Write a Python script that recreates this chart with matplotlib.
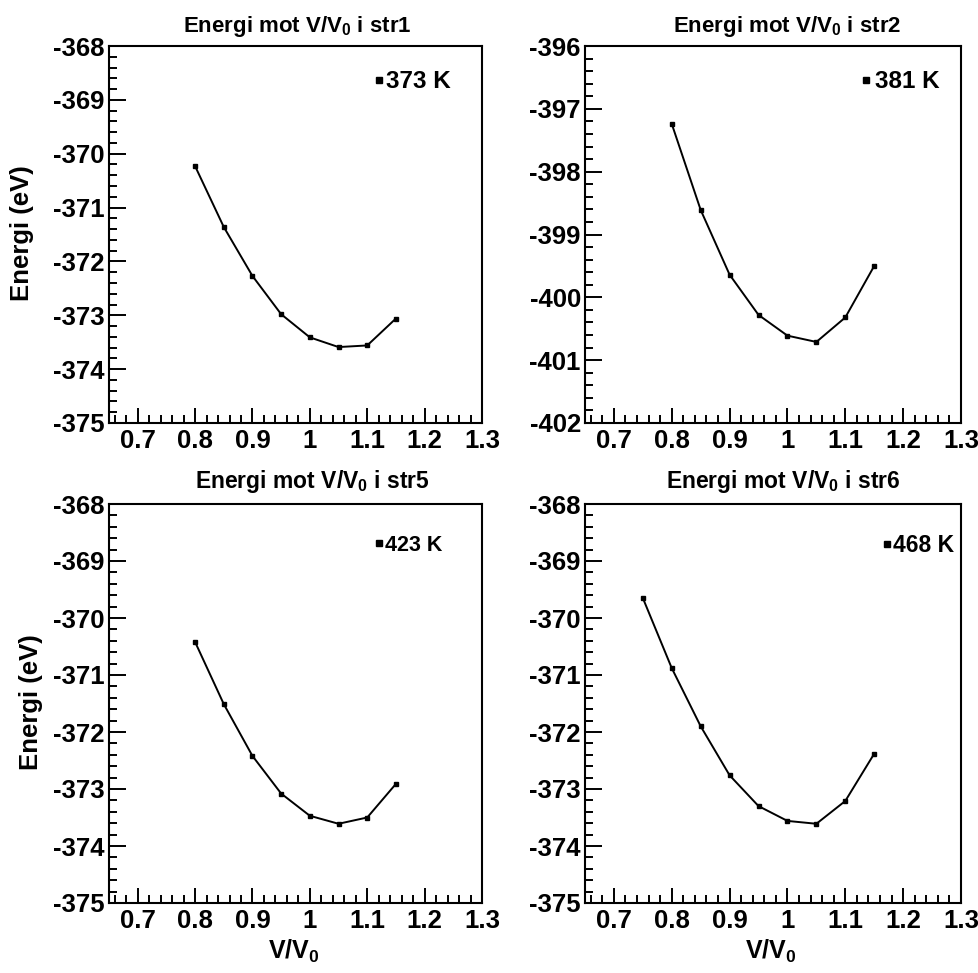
import matplotlib
matplotlib.use("Agg")
import matplotlib.pyplot as plt
from matplotlib.ticker import MultipleLocator

plt.rcParams['font.family'] = ['Liberation Sans', 'DejaVu Sans']
plt.rcParams['font.weight'] = 'bold'
plt.rcParams['mathtext.fontset'] = 'custom'
plt.rcParams['mathtext.rm'] = 'Liberation Sans:bold'
plt.rcParams['mathtext.it'] = 'Liberation Sans:bold'
plt.rcParams['mathtext.bf'] = 'Liberation Sans:bold'

# data
v_str1 = [0.80, 0.85, 0.90, 0.95, 1.00, 1.05, 1.10, 1.15]
e_str1 = [-370.23, -371.36, -372.27, -372.98, -373.41, -373.59, -373.56, -373.06]

v_str2 = [0.80, 0.85, 0.90, 0.95, 1.00, 1.05, 1.10, 1.15]
e_str2 = [-397.24, -398.61, -399.64, -400.28, -400.61, -400.71, -400.32, -399.50]

v_str5 = [0.80, 0.85, 0.90, 0.95, 1.00, 1.05, 1.10, 1.15]
e_str5 = [-370.42, -371.51, -372.42, -373.08, -373.47, -373.61, -373.50, -372.91]

v_str6 = [0.75, 0.80, 0.85, 0.90, 0.95, 1.00, 1.05, 1.10, 1.15]
e_str6 = [-369.65, -370.88, -371.90, -372.76, -373.30, -373.56, -373.61, -373.21, -372.38]

names = ['str1', 'str2', 'str5', 'str6']
temps = ['373 K', '381 K', '423 K', '468 K']
ylims = [(-375, -368), (-402, -396), (-375, -368), (-375, -368)]

W, H = 979.0, 973.0
fig = plt.figure(figsize=(W / 100, H / 100), dpi=100)


def px_axes(l, t, r, b):
    return fig.add_axes([l / W, 1 - b / H, (r - l) / W, (b - t) / H])


# pixel boxes (left, top, right, bottom) and per panel text settings
boxes = [(109, 46, 482, 423), (585, 46, 961, 423),
         (109, 504, 482, 903), (585, 504, 961, 903)]
title_pos = [(297, 32, 16), (787, 32, 16), (312, 488, 16.5), (783, 488, 16.5)]
leg_pos = [(0.713, 0.905, 17.5, 0.14), (0.737, 0.905, 17.5, 0.22),
           (0.715, 0.897, 15.5, 0.14), (0.794, 0.897, 16.5, 0.12)]

series = [(v_str1, e_str1), (v_str2, e_str2), (v_str5, e_str5), (v_str6, e_str6)]

for i in range(4):
    ax = px_axes(*boxes[i])
    x, y = series[i]
    ax.plot(x, y, color='black', lw=1.4, marker='s', ms=3.5, label=temps[i])
    ax.set_xlim(0.65, 1.3)
    ax.set_ylim(*ylims[i])
    ax.xaxis.set_major_locator(MultipleLocator(0.1))
    ax.xaxis.set_minor_locator(MultipleLocator(0.02))
    ax.yaxis.set_major_locator(MultipleLocator(1))
    ax.yaxis.set_minor_locator(MultipleLocator(0.2))
    ax.xaxis.set_major_formatter(plt.FuncFormatter(lambda v, p: '%g' % round(v, 2)))
    ax.yaxis.set_major_formatter(plt.FuncFormatter(lambda v, p: '%d' % round(v)))
    ax.tick_params(which='both', direction='in', top=False, right=False,
                   width=1.4, labelsize=18.5)
    ax.tick_params(which='major', length=11, pad=4)
    ax.tick_params(axis='y', which='major', length=12, pad=3)
    ax.tick_params(which='minor', length=6)
    for s in ax.spines.values():
        s.set_linewidth(1.5)
    for lab in ax.get_xticklabels() + ax.get_yticklabels():
        lab.set_fontweight('bold')

    lx, ly, lfs, lpad = leg_pos[i]
    leg = ax.legend(loc='center left', bbox_to_anchor=(lx, ly), frameon=False,
                    handlelength=0.3, handletextpad=lpad, borderpad=0,
                    borderaxespad=0, prop={'size': lfs, 'weight': 'bold'})
    for h in leg.legend_handles:
        h.set_linestyle('none')
        h.set_markersize(4.5)

    tx, ty, tfs = title_pos[i]
    fig.text(tx / W, 1 - ty / H, 'Energi mot V/V$_0$ i ' + names[i],
             ha='center', va='baseline', fontsize=tfs, fontweight='bold')

fig.text(22.5 / W, 1 - 233 / H, 'Energi (eV)', rotation=90, ha='center',
         va='center', fontsize=18.5, fontweight='bold')
fig.text(31 / W, 1 - 702 / H, 'Energi (eV)', rotation=90, ha='center',
         va='center', fontsize=18.5, fontweight='bold')
fig.text(294 / W, 1 - 959 / H, 'V/V$_0$', ha='center', va='baseline',
         fontsize=18, fontweight='bold')
fig.text(771 / W, 1 - 959 / H, 'V/V$_0$', ha='center', va='baseline',
         fontsize=18, fontweight='bold')

fig.savefig('out.png', dpi=100)
